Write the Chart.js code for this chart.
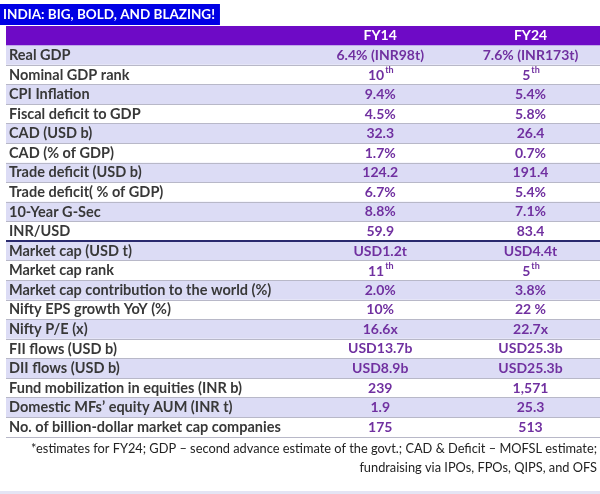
<!DOCTYPE html>
<html>
<head>
<meta charset="utf-8">
<script src="https://cdn.jsdelivr.net/npm/chart.js@4"></script>
<style>
  body { margin: 0; background: #fff; }
  canvas { display: block; }
</style>
</head>
<body>
<canvas id="indiaTable" width="600" height="494"></canvas>
<script>
const titleText = 'INDIA: BIG, BOLD, AND BLAZING!';
const columns = ['FY14', 'FY24'];
const metrics = [
    'Real GDP', 'Nominal GDP rank', 'CPI Inflation', 'Fiscal deficit to GDP',
    'CAD (USD b)', 'CAD (% of GDP)', 'Trade deficit (USD b)', 'Trade deficit( % of GDP)',
    '10-Year G-Sec', 'INR/USD', 'Market cap (USD t)', 'Market cap rank',
    'Market cap contribution to the world (%)', 'Nifty EPS growth YoY (%)', 'Nifty P/E (x)',
    'FII flows (USD b)', 'DII flows (USD b)', 'Fund mobilization in equities (INR b)',
    'Domestic MFs\u2019 equity AUM (INR t)', 'No. of billion-dollar market cap companies'
];
const fy14 = [
    '6.4% (INR98t)', '10th', '9.4%', '4.5%', '32.3', '1.7%', '124.2', '6.7%', '8.8%', '59.9',
    'USD1.2t', '11th', '2.0%', '10%', '16.6x', 'USD13.7b', 'USD8.9b', '239', '1.9', '175'
];
const fy24 = [
    '7.6% (INR173t)', '5th', '5.4%', '5.8%', '26.4', '0.7%', '191.4', '5.4%', '7.1%', '83.4',
    'USD4.4t', '5th', '3.8%', '22 %', '22.7x', 'USD25.3b', 'USD25.3b', '1,571', '25.3', '513'
];
const footnotes = [
    '*estimates for FY24; GDP \u2013 second advance estimate of the govt.; CAD & Deficit \u2013 MOFSL estimate;',
    'fundraising via IPOs, FPOs, QIPS, and OFS'
];

const FONT = 'Lato, "Open Sans", sans-serif';
const headerColor = '#6e0ac6';
const stripeColor = '#dcdcf5';
const valueColor = '#7030a0';

// header row first, then one row per metric
const rowLabels = [''].concat(metrics);
const rowColors = rowLabels.map((_, i) => i === 0 ? headerColor : (i % 2 === 1 ? stripeColor : '#ffffff'));

const drawValue = (ctx, text, cx, cy, color) => {
    const m = /^(\d+)(st|nd|rd|th)$/.exec(text);
    ctx.fillStyle = color;
    ctx.textBaseline = 'middle';
    if (!m) {
        ctx.font = 'bold 14px ' + FONT;
        ctx.textAlign = 'center';
        ctx.fillText(text, cx, cy);
        return;
    }
    ctx.font = 'bold 14px ' + FONT;
    const w1 = ctx.measureText(m[1]).width;
    ctx.font = 'bold 9px ' + FONT;
    const w2 = ctx.measureText(m[2]).width;
    const start = cx - (w1 + w2) / 2;
    ctx.textAlign = 'left';
    ctx.font = 'bold 14px ' + FONT;
    ctx.fillText(m[1], start, cy + 1);
    ctx.font = 'bold 9px ' + FONT;
    ctx.fillText(m[2], start + w1 + 1, cy - 5);
};

const tableText = {
    id: 'tableText',
    afterDraw(chart) {
        const ctx = chart.ctx;
        const x = chart.scales.x;
        const y = chart.scales.y;
        const colX = [x.getPixelForValue(0.63), x.getPixelForValue(0.883)];
        ctx.save();

        // header cells
        columns.forEach((c, j) => drawValue(ctx, c, colX[j], y.getPixelForValue(0), '#ffffff'));

        // body cells
        metrics.forEach((_, i) => {
            const cy = y.getPixelForValue(i + 1);
            drawValue(ctx, fy14[i], colX[0], cy, valueColor);
            drawValue(ctx, fy24[i], colX[1], cy, valueColor);
        });

        // title badge
        ctx.font = 'bold 13.5px ' + FONT;
        const tw = ctx.measureText(titleText).width;
        ctx.fillStyle = '#0000e4';
        ctx.fillRect(0, 4, tw + 8, 21);
        ctx.fillStyle = '#ffffff';
        ctx.textAlign = 'left';
        ctx.textBaseline = 'middle';
        ctx.fillText(titleText, 3, 15);

        // footnote, right aligned
        ctx.font = '12.8px ' + FONT;
        ctx.fillStyle = '#222222';
        ctx.textAlign = 'right';
        ctx.fillText(footnotes[0], 597, 449);
        ctx.fillText(footnotes[1], 597, 468);

        ctx.fillStyle = '#e4e4f4';
        ctx.fillRect(0, 491, 600, 3);
        ctx.restore();
    }
};

new Chart(document.getElementById('indiaTable'), {
    type: 'bar',
    data: {
        labels: rowLabels,
        datasets: [{
            data: rowLabels.map(() => 1),
            backgroundColor: rowColors,
            borderWidth: 0,
            barPercentage: 1,
            categoryPercentage: 1
        }]
    },
    options: {
        indexAxis: 'y',
        responsive: false,
        animation: false,
        events: [],
        layout: { padding: { top: 26, bottom: 57, left: 0, right: 0 } },
        plugins: {
            legend: { display: false },
            tooltip: { enabled: false },
            title: { display: false }
        },
        scales: {
            x: { display: false, min: 0, max: 1 },
            y: {
                border: { display: false },
                grid: {
                    z: 1,
                    offset: true,
                    drawTicks: false,
                    lineWidth: (c) => (c.index === 11 || c.index === 21) ? 2 : 1,
                    color: (c) => {
                        if (c.index === 11 || c.index === 21) return '#2a2a6e';
                        if (c.index <= 1) return 'rgba(0,0,0,0)';
                        return '#b8b8c8';
                    }
                },
                ticks: {
                    z: 2,
                    mirror: true,
                    padding: 3,
                    autoSkip: false,
                    color: '#383838',
                    font: { family: FONT, size: 14.5, weight: 'bold' }
                }
            }
        }
    },
    plugins: [tableText]
});
</script>
</body>
</html>
